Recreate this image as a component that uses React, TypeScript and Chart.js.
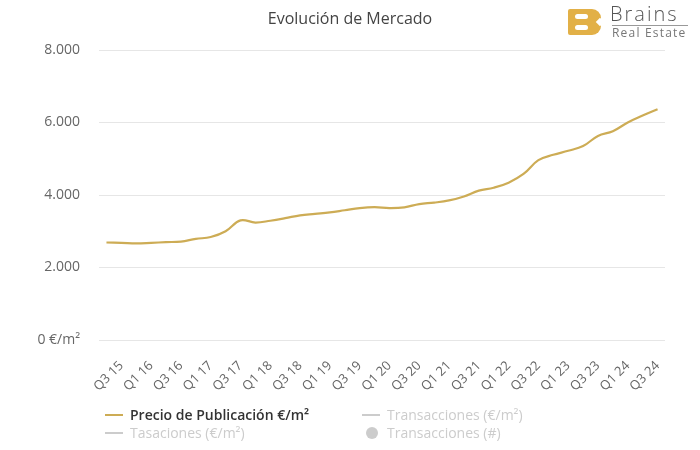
import React, { useEffect, useRef } from "react";
import { Chart, registerables } from "chart.js";

Chart.register(...registerables);

const quarters: string[] = [
  "Q2 15", "Q3 15", "Q4 15",
  "Q1 16", "Q2 16", "Q3 16", "Q4 16",
  "Q1 17", "Q2 17", "Q3 17", "Q4 17",
  "Q1 18", "Q2 18", "Q3 18", "Q4 18",
  "Q1 19", "Q2 19", "Q3 19", "Q4 19",
  "Q1 20", "Q2 20", "Q3 20", "Q4 20",
  "Q1 21", "Q2 21", "Q3 21", "Q4 21",
  "Q1 22", "Q2 22", "Q3 22", "Q4 22",
  "Q1 23", "Q2 23", "Q3 23", "Q4 23",
  "Q1 24", "Q2 24", "Q3 24",
];

const precioPublicacion: number[] = [
  2690, 2680, 2665,
  2680, 2700, 2715, 2790,
  2840, 3000, 3300, 3240,
  3290, 3360, 3440, 3480,
  3520, 3580, 3640, 3665,
  3640, 3660, 3750, 3790,
  3850, 3960, 4120, 4200,
  4340, 4580, 4960, 5110,
  5220, 5350, 5630, 5760,
  6000, 6190, 6365,
];

const yTicks: number[] = [0, 2000, 4000, 6000, 8000];

const chartTitle = "Evolución de Mercado";
const legendItems: string[] = [
  "Precio de Publicación €/m²",
  "Transacciones (€/m²)",
  "Tasaciones (€/m²)",
  "Transacciones (#)",
];

const GOLD = "#cdac55";
const FONT = "'Open Sans', sans-serif";

function fmt(v: number): string {
  if (v === 0) return "0 €/m²";
  const s = String(Math.round(v));
  return s.replace(/\B(?=(\d{3})+(?!\d))/g, ".");
}

function Logo() {
  return (
    <div style={{ position: "absolute", left: 0, top: 0 }}>
      <div
        style={{
          position: "absolute",
          left: 568,
          top: 9,
          width: 33,
          height: 26,
          background: "#e2b047",
          borderRadius: "2px 9px 9px 2px",
        }}
      />
      <div style={{ position: "absolute", left: 597, top: 19, width: 6, height: 6, background: "#fff", transform: "rotate(45deg)" }} />
      <div style={{ position: "absolute", left: 575, top: 14, width: 13, height: 5, background: "#fff", borderRadius: 3 }} />
      <div style={{ position: "absolute", left: 575, top: 25, width: 13, height: 5, background: "#fff", borderRadius: 3 }} />
      <div
        style={{
          position: "absolute",
          left: 610,
          top: 2,
          fontFamily: FONT,
          fontSize: 20,
          fontWeight: 300,
          letterSpacing: 2,
          color: "#555",
          lineHeight: "24px",
          whiteSpace: "nowrap",
        }}
      >
        Brains
      </div>
      <div style={{ position: "absolute", left: 612, top: 25, width: 76, height: 1, background: "#999" }} />
      <div
        style={{
          position: "absolute",
          left: 612,
          top: 26,
          fontFamily: FONT,
          fontSize: 12,
          letterSpacing: 1.2,
          color: "#777",
          lineHeight: "14px",
          whiteSpace: "nowrap",
        }}
      >
        Real Estate
      </div>
    </div>
  );
}

function LegendItem(props: { x: number; y: number; text: string; active: boolean; circle?: boolean }) {
  const { x, y, text, active, circle } = props;
  const col = active ? GOLD : "#cccccc";
  return (
    <div style={{ position: "absolute", left: x, top: y - 10, height: 20, whiteSpace: "nowrap" }}>
      {circle ? (
        <div style={{ position: "absolute", left: 4, top: 4, width: 12, height: 12, borderRadius: 6, background: col }} />
      ) : (
        <div style={{ position: "absolute", left: 0, top: 9, width: 18, height: 2, background: col }} />
      )}
      <div
        style={{
          position: "absolute",
          left: 25,
          top: 0,
          lineHeight: "20px",
          fontFamily: FONT,
          fontSize: 14,
          fontWeight: active ? 600 : 400,
          color: active ? "#333" : "#cccccc",
        }}
      >
        {text}
      </div>
    </div>
  );
}

export default function App() {
  const canvasRef = useRef<HTMLCanvasElement | null>(null);

  useEffect(() => {
    if (!canvasRef.current) return;
    const chart = new Chart(canvasRef.current, {
      type: "line",
      data: {
        labels: quarters,
        datasets: [
          {
            label: legendItems[0],
            data: precioPublicacion,
            borderColor: GOLD,
            borderWidth: 2.2,
            pointRadius: 0,
            tension: 0.4,
            fill: false,
          },
        ],
      },
      options: {
        responsive: false,
        animation: false,
        layout: { padding: { top: 50, right: 35, bottom: 0, left: 0 } },
        plugins: {
          legend: { display: false },
          title: { display: false },
          tooltip: { enabled: false },
        },
        scales: {
          x: {
            type: "category",
            offset: true,
            grid: { display: false },
            border: { display: false },
            afterFit: (s: any) => {
              s.height = 110;
            },
            ticks: {
              autoSkip: false,
              maxRotation: 45,
              minRotation: 45,
              padding: 10,
              color: "#666",
              font: { family: FONT, size: 13 },
              callback: (_v: any, i: number) => (i % 2 === 1 ? quarters[i] : ""),
            },
          },
          y: {
            min: 0,
            max: 8000,
            afterFit: (s: any) => {
              s.width = 99;
            },
            afterBuildTicks: (s: any) => {
              s.ticks = yTicks.map((v) => ({ value: v }));
            },
            grid: { color: "#e6e6e6", drawTicks: false, lineWidth: 1 },
            border: { display: false },
            ticks: {
              padding: 19,
              color: "#666",
              font: { family: FONT, size: 14 },
              callback: (v: any) => fmt(Number(v)),
            },
          },
        },
      },
    });
    return () => chart.destroy();
  }, []);

  return (
    <div style={{ position: "absolute", left: 0, top: 0, width: 700, height: 450, background: "#fff", overflow: "hidden" }}>
      <canvas ref={canvasRef} width={700} height={450} style={{ position: "absolute", left: 0, top: 0, width: 700, height: 450 }} />
      <div
        style={{
          position: "absolute",
          left: 0,
          width: 700,
          top: 7,
          textAlign: "center",
          fontFamily: FONT,
          fontSize: 16,
          color: "#444",
          lineHeight: "22px",
        }}
      >
        {chartTitle}
      </div>
      <Logo />
      <LegendItem x={105} y={415} text={legendItems[0]} active={true} />
      <LegendItem x={362} y={415} text={legendItems[1]} active={false} />
      <LegendItem x={105} y={433} text={legendItems[2]} active={false} />
      <LegendItem x={362} y={433} text={legendItems[3]} active={false} circle={true} />
    </div>
  );
}
